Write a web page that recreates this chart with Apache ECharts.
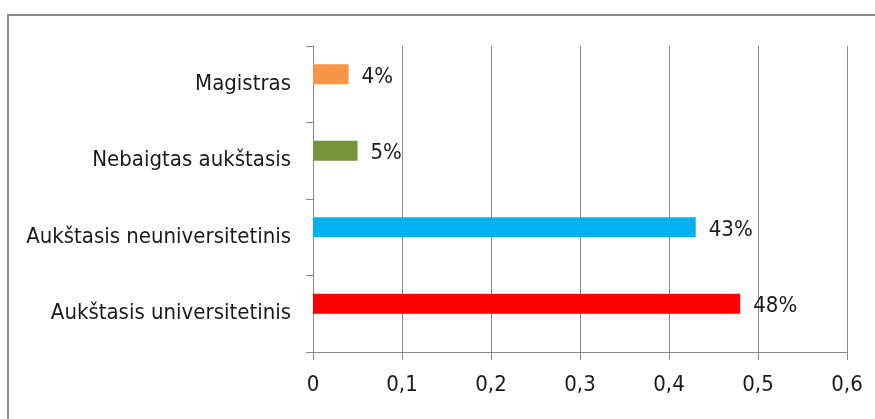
<!DOCTYPE html>
<html>
<head>
<meta charset="utf-8">
<script src="https://cdn.jsdelivr.net/npm/echarts@6/dist/echarts.min.js"></script>
<style>
  html, body { margin: 0; padding: 0; background: #fff; }
  #chart { width: 875px; height: 419px; }
</style>
</head>
<body>
<div id="chart"></div>
<script>
// categories bottom to top
var categories = ['Aukštasis universitetinis', 'Aukštasis neuniversitetinis', 'Nebaigtas aukštasis', 'Magistras'];
var shares = [0.48, 0.43, 0.05, 0.04];
var barColors = ['#ff0000', '#00b0f0', '#77933c', '#f79646'];
var xTicks = [0, 0.1, 0.2, 0.3, 0.4, 0.5, 0.6];

var font = "'DejaVu Sans Condensed', sans-serif";
var chart = echarts.init(document.getElementById('chart'));

chart.setOption({
    animation: false,
    backgroundColor: '#fff',
    graphic: [{
        type: 'rect',
        shape: { x: 8, y: 15, width: 1000, height: 600 },
        style: { fill: 'none', stroke: '#8a8a8a', lineWidth: 2 },
        silent: true
    }],
    grid: { left: 313, right: 28, top: 46, bottom: 67 },
    xAxis: {
        type: 'value',
        min: xTicks[0],
        max: xTicks[xTicks.length - 1],
        interval: 0.1,
        axisLine: { show: true, lineStyle: { color: '#888' } },
        axisTick: { show: true, length: 8, lineStyle: { color: '#888' } },
        splitLine: { show: true, lineStyle: { color: '#888', width: 1 } },
        axisLabel: {
            margin: 22,
            color: '#1a1a1a',
            fontSize: 22,
            fontFamily: font,
            formatter: function(v) { return String(+v.toFixed(1)).replace('.', ','); }
        }
    },
    yAxis: {
        type: 'category',
        data: categories,
        axisLine: { show: true, lineStyle: { color: '#888' } },
        axisTick: { show: true, length: 7, lineStyle: { color: '#888' } },
        axisLabel: {
            margin: 22,
            color: '#1a1a1a',
            fontSize: 22,
            fontFamily: font
        }
    },
    series: [{
        type: 'bar',
        barWidth: 20,
        barGap: '0%',
        data: shares.map(function(v, i) {
            return { value: v, itemStyle: { color: barColors[i] } };
        }),
        label: {
            show: true,
            position: 'right',
            distance: 13,
            offset: [0, 3],
            color: '#1a1a1a',
            fontSize: 22,
            fontFamily: font,
            formatter: function(p) { return Math.round(p.value * 100) + '%'; }
        }
    }, {
        type: 'bar',
        barWidth: 20,
        data: shares.map(function() { return null; })
    }]
});
</script>
</body>
</html>
